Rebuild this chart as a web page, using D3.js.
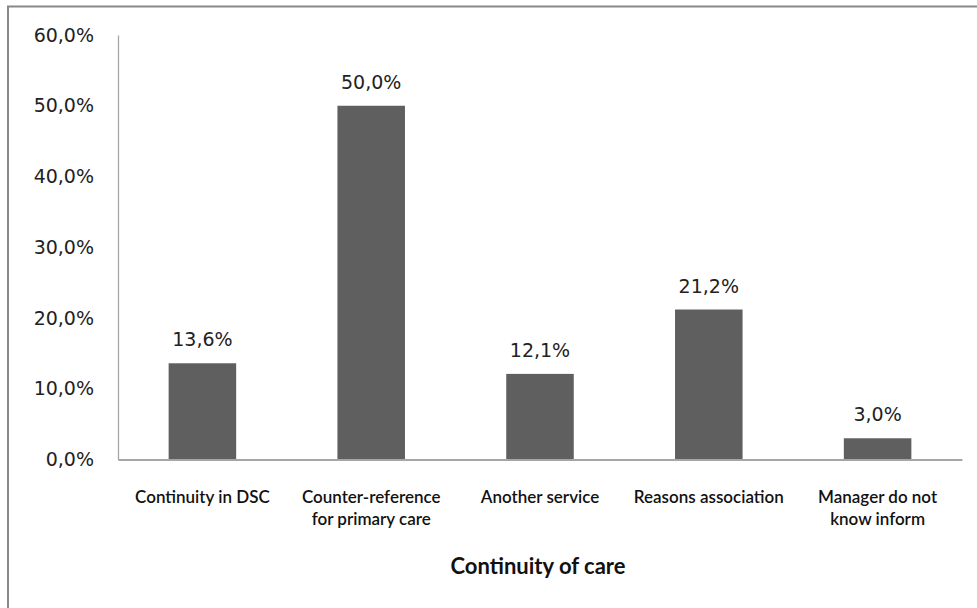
<!DOCTYPE html>
<html><head><meta charset="utf-8">
<script src="https://cdn.jsdelivr.net/npm/d3@7"></script>
<style>html,body{margin:0;padding:0;background:#fff;overflow:hidden}</style>
</head><body>
<script>
const categories = [["Continuity in DSC"],["Counter-reference","for primary care"],["Another service"],["Reasons association"],["Manager do not","know inform"]];
const values = [13.6, 50.0, 12.1, 21.2, 3.0];
const valueLabels = ["13,6%","50,0%","12,1%","21,2%","3,0%"];
const yTicks = [0,10,20,30,40,50,60];
const yTickLabels = ["0,0%","10,0%","20,0%","30,0%","40,0%","50,0%","60,0%"];
const axisTitle = "Continuity of care";

const W = 977, H = 608;
const svg = d3.select("body").append("svg").attr("width", W).attr("height", H);
svg.append("rect").attr("x", 8).attr("y", 6.5).attr("width", 1000).attr("height", 700)
  .attr("fill", "#fff").attr("stroke", "#888").attr("stroke-width", 2);

const x0 = 118, x1 = 962, yTop = 35, yBot = 459.5;
const x = d3.scaleBand().domain(d3.range(categories.length)).range([x0, x1]).paddingInner(0.6).paddingOuter(0.3);
const y = d3.scaleLinear().domain([0, 60]).range([yBot, yTop]);

const valFont = "'DejaVu Sans', sans-serif";
const catFont = "Lato, 'Open Sans', sans-serif";

// y tick labels
const yAxis = d3.axisLeft(y).tickValues(yTicks).tickSize(0).tickPadding(24)
  .tickFormat((d,i) => yTickLabels[i]);
const gy = svg.append("g").attr("transform", `translate(${x0},0)`).call(yAxis);
gy.select(".domain").attr("stroke", "#a6a6a6").attr("stroke-width", 1.3);
gy.selectAll("text").attr("font-family", valFont).attr("font-size", 19).attr("fill", "#222");

// bars
svg.append("g").selectAll("rect").data(values).join("rect")
  .attr("x", (d,i) => x(i)).attr("width", x.bandwidth())
  .attr("y", d => y(d)).attr("height", d => y(0) - y(d))
  .attr("fill", "#5f5f5f");

// x axis line
const xAxis = d3.axisBottom(x).tickSize(0).tickFormat("");
const gx = svg.append("g").attr("transform", `translate(0,${yBot})`).call(xAxis);
gx.select(".domain").attr("stroke", "#a6a6a6").attr("stroke-width", 2);

// value labels
svg.append("g").selectAll("text").data(values).join("text")
  .attr("x", (d,i) => x(i) + x.bandwidth()/2).attr("y", d => y(d) - 17)
  .attr("text-anchor", "middle").attr("font-family", valFont).attr("font-size", 19)
  .attr("fill", "#222").text((d,i) => valueLabels[i]);

// category labels
const cg = svg.append("g").selectAll("text").data(categories).join("text")
  .attr("text-anchor", "middle").attr("font-family", catFont).attr("font-size", 17)
  .attr("font-weight", 600).attr("fill", "#111");
cg.each(function(lines, i) {
  const t = d3.select(this);
  lines.forEach((l, j) => t.append("tspan").attr("x", x(i) + x.bandwidth()/2).attr("y", 503 + j*22).text(l));
});

// axis title
svg.append("text").attr("x", (x0 + x1)/2 - 2).attr("y", 574).attr("text-anchor", "middle")
  .attr("font-family", catFont).attr("font-size", 22).attr("font-weight", 700).attr("fill", "#111")
  .text(axisTitle);
</script>
</body></html>
